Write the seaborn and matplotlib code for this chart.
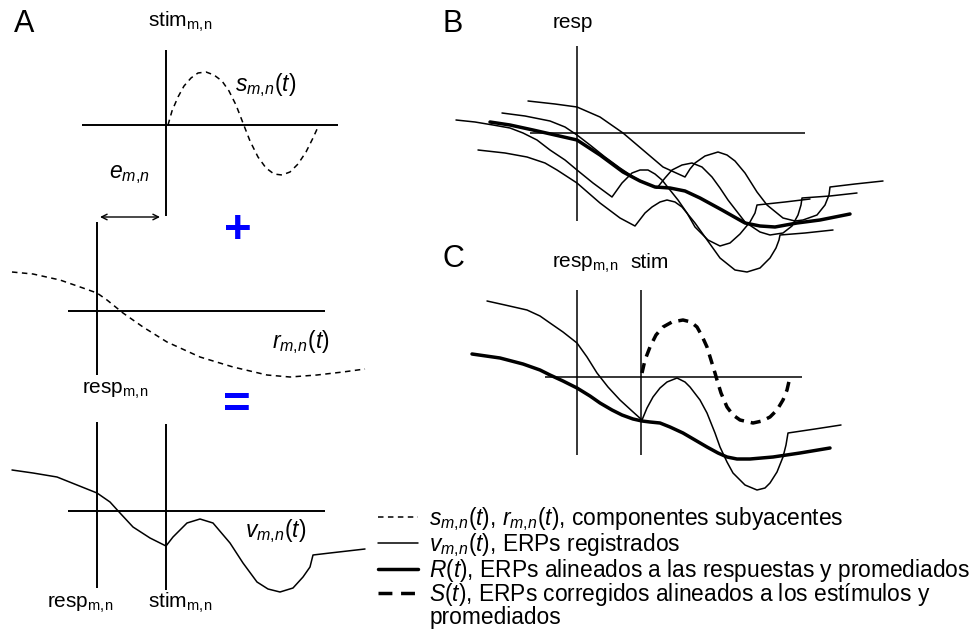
import matplotlib
matplotlib.use("Agg")
import matplotlib.pyplot as plt
import seaborn as sns
from matplotlib.lines import Line2D

# ---------------- data (time / amplitude, relative to each panel's axis cross) -------------
e_mn = 69  # latency between response and stimulus (panel A)

# Panel A, top: stimulus component s(t)
s_t = [2, 6, 12, 18, 25, 32, 40, 48, 56, 63, 70, 77, 84, 92, 100, 108, 116, 124, 132, 140, 147, 152]
s_a = [0, 14, 28, 39, 47, 52, 53, 50, 44, 34, 20, 2, -16, -32, -43, -49, -50, -47, -39, -27, -13, -2]

# Panel A, middle: response component r(t)
r_t = [-85, -64, -37, -14, 0, 10, 26, 46, 70, 103, 136, 170, 193, 220, 246, 268]
r_a = [39, 37, 31, 23, 18, 11, -2, -16, -31, -46, -56, -64, -66, -64, -61, -58]

# Panel A, bottom: recorded ERP v(t)
v_t = [-85, -64, -40, -20, 0, 13, 23, 36, 53, 69, 76, 90, 103, 116, 133, 146, 160, 171, 183, 196,
       206, 213, 216, 233, 268]
v_a = [41, 38, 34, 26, 18, 9, -2, -16, -27, -35, -26, -12, -8, -12, -32, -52, -71, -78, -81, -77,
       -66, -56, -44, -42, -38]

# Panel B: four single trials aligned to response, and their average R(t)
b1_t = [-49, -22, 0, 23, 46, 66, 86, 108, 113, 118, 128, 141, 150, 158, 168, 180, 190, 206, 218,
        226, 240, 248, 252, 253, 278, 306]
b1_a = [32, 29, 26, 16, 0, -17, -34, -44, -36, -30, -23, -19, -22, -28, -40, -59, -72, -85, -88,
        -87, -82, -72, -62, -54, -51, -48]
b2_t = [-75, -52, -27, -12, 0, 13, 28, 43, 58, 70, 80, 88, 95, 105, 115, 125, 135, 143, 151, 168,
        183, 193, 206, 215, 221, 224, 225, 253, 280]
b2_a = [20, 17, 12, 6, -2, -12, -24, -35, -45, -51, -55, -45, -37, -32, -30, -34, -44, -55, -67,
        -89, -99, -102, -100, -93, -82, -72, -65, -63, -60]
b3_t = [-121, -102, -84, -67, -54, -40, -27, -12, 0, 16, 35, 45, 55, 63, 71, 78, 85, 93, 101, 110,
        118, 131, 143, 153, 163, 173, 178, 180, 208, 233]
b3_a = [13, 11, 8, 5, 0, -7, -17, -27, -37, -50, -64, -50, -40, -37, -37, -41, -47, -57, -67, -80,
        -94, -107, -113, -110, -101, -89, -80, -72, -69, -66]
b4_t = [-99, -72, -50, -32, -20, 0, 23, 43, 58, 68, 75, 83, 90, 98, 105, 118, 128, 143, 158, 170,
        183, 193, 199, 202, 203, 228, 256]
b4_a = [-17, -20, -24, -30, -37, -50, -70, -85, -93, -80, -74, -69, -67, -69, -74, -90, -104,
        -125, -137, -139, -135, -125, -115, -107, -102, -100, -97]
bR_t = [-87, -67, -44, -22, 0, 23, 46, 63, 78, 93, 108, 123, 145, 168, 183, 198, 220, 243, 273]
bR_a = [11, 8, 3, -2, -7, -22, -39, -48, -54, -55, -58, -65, -77, -90, -93, -94, -90, -87, -81]

# Panel C: one trial, average R(t) and corrected stimulus-locked S(t)
stim_C = 64
cv_t = [-90, -72, -50, -37, -27, -14, 0, 10, 20, 31, 43, 55, 65, 70, 76, 83, 90, 100, 108, 113,
        123, 130, 138, 143, 150, 156, 168, 180, 188, 193, 200, 206, 209, 211, 238, 264]
cv_a = [76, 72, 67, 61, 54, 45, 34, 20, 4, -10, -23, -34, -43, -31, -20, -11, -5, -1, -5, -10,
        -23, -36, -56, -70, -85, -96, -108, -113, -111, -106, -95, -80, -68, -56, -52, -48]
cR_t = [-105, -77, -54, -37, -27, -14, 0, 13, 23, 35, 45, 56, 65, 73, 83, 93, 106, 118, 130, 141,
        150, 160, 173, 196, 223, 253]
cR_a = [23, 19, 13, 7, 2, -4, -11, -19, -26, -33, -38, -42, -44, -45, -46, -50, -56, -63, -70,
        -76, -80, -82, -82, -80, -76, -71]
cS_t = [65, 68, 73, 79, 86, 95, 106, 114, 120, 125, 130, 134, 138, 140, 144, 150, 156, 163, 176,
        185, 193, 200, 206, 210, 213]
cS_a = [4, 17, 30, 42, 50, 55, 57, 55, 50, 41, 30, 17, 4, -3, -16, -30, -38, -43, -46, -44, -40,
        -33, -23, -13, 0]

legend_labels = [
    r"$\mathit{s_{m,\!n}(t)}$, $\mathit{r_{m,\!n}(t)}$, componentes subyacentes",
    r"$\mathit{v_{m,\!n}(t)}$, ERPs registrados",
    r"$\mathit{R(t)}$, ERPs alineados a las respuestas y promediados",
    r"$\mathit{S(t)}$, ERPs corregidos alineados a los estímulos y",
    "promediados",
]

# ---------------- style ----------------
sns.set_theme(style="white")
plt.rcParams["font.family"] = ["Liberation Sans", "DejaVu Sans"]
plt.rcParams["text.color"] = "black"
plt.rcParams["mathtext.fontset"] = "custom"
plt.rcParams["mathtext.rm"] = "Liberation Sans"
plt.rcParams["mathtext.it"] = "Liberation Sans:italic"
plt.rcParams["mathtext.bf"] = "Liberation Sans:bold"

W, H = 979, 639
fig = plt.figure(figsize=(W / 100, H / 100), dpi=100)
fig.patch.set_facecolor("white")

AX_LW = 1.4
THIN = 1.1
THICK = 2.5
DASH_THIN = (0, (3.6, 2.9))
DASH_THICK = (0, (2.9, 2.0))


def panel_axes(ox, oy):
    ax = fig.add_axes([0, 0, 1, 1])
    ax.patch.set_alpha(0)
    return ax, (ox, oy)


def finish(ax, origin):
    ox, oy = origin
    ax.set_xlim(-ox, W - ox)
    ax.set_ylim(oy - H, oy)
    ax.axis("off")


def curve(ax, t, a, lw, ls="-"):
    sns.lineplot(x=t, y=a, ax=ax, sort=False, estimator=None, color="black",
                 linewidth=lw, linestyle=ls)


def ftxt(x, y, s, size, **kw):
    fig.text(x / W, 1 - y / H, s, fontsize=size, va="baseline", ha="left", color="black", **kw)


# ---- Panel A top ----
axA1, oA1 = panel_axes(166, 125)
axA1.hlines(0, -84, 172, color="black", lw=AX_LW)
axA1.vlines(0, -91, 75, color="black", lw=AX_LW)
curve(axA1, s_t, s_a, THIN, DASH_THIN)
axA1.annotate("", xy=(-6, -92), xytext=(-e_mn + 3, -92),
              arrowprops=dict(arrowstyle="<->", lw=1.0, color="black",
                              mutation_scale=10, shrinkA=0, shrinkB=0))
finish(axA1, oA1)

# ---- Panel A middle ----
axA2, oA2 = panel_axes(166 - e_mn, 311)
axA2.hlines(0, -29, 228, color="black", lw=AX_LW)
axA2.vlines(0, -64, 89, color="black", lw=AX_LW)
curve(axA2, r_t, r_a, THIN, DASH_THIN)
finish(axA2, oA2)

# ---- Panel A bottom ----
axA3, oA3 = panel_axes(166 - e_mn, 511)
axA3.hlines(0, -29, 228, color="black", lw=AX_LW)
axA3.vlines(0, -77, 89, color="black", lw=AX_LW)
axA3.vlines(e_mn, -79, 87, color="black", lw=AX_LW)
curve(axA3, v_t, v_a, THIN)
finish(axA3, oA3)

# ---- Panel B ----
axB, oB = panel_axes(577, 133)
axB.hlines(0, -47, 228, color="black", lw=THIN)
axB.vlines(0, -88, 87, color="black", lw=THIN)
for tt, aa in [(b1_t, b1_a), (b2_t, b2_a), (b3_t, b3_a), (b4_t, b4_a)]:
    curve(axB, tt, aa, THIN)
curve(axB, bR_t, bR_a, THICK)
finish(axB, oB)

# ---- Panel C ----
axC, oC = panel_axes(577, 377)
axC.hlines(0, -32, 225, color="black", lw=THIN)
axC.vlines(0, -78, 87, color="black", lw=THIN)
axC.vlines(stim_C, -78, 87, color="black", lw=THIN)
curve(axC, cv_t, cv_a, THIN)
curve(axC, cR_t, cR_a, THICK)
curve(axC, cS_t, cS_a, THICK, DASH_THICK)
finish(axC, oC)

# ---- legend ----
handles = [
    Line2D([], [], color="black", lw=THIN, linestyle=(0, (3.6, 2.9))),
    Line2D([], [], color="black", lw=THIN),
    Line2D([], [], color="black", lw=THICK),
    Line2D([], [], color="black", lw=THICK, linestyle=(0, (4.0, 2.5))),
    Line2D([], [], color="none", lw=0),
]
leg = axC.legend(handles, legend_labels, loc="upper left",
                 bbox_to_anchor=(378 / W, 1 - 505 / H), bbox_transform=fig.transFigure,
                 frameon=False, fontsize=16.4, handlelength=1.75, handletextpad=0.5,
                 labelspacing=-0.09, borderpad=0, borderaxespad=0)
for txt in leg.get_texts():
    txt.set_color("black")

# ---- texts ----
LBL = 15
ITL = 16.5
ftxt(14, 32, "A", 22)
ftxt(443, 32, "B", 22)
ftxt(443, 267, "C", 22)

ftxt(148, 27, r"stim$_\mathrm{m,\!n}$", LBL)
ftxt(235, 91, r"$\mathit{s_{m,\!n}(t)}$", ITL)
ftxt(109, 178, r"$\mathit{e_{m,\!n}}$", ITL)
ftxt(272, 348, r"$\mathit{r_{m,\!n}(t)}$", ITL)
ftxt(82, 394, r"resp$_\mathrm{m,\!n}$", LBL)
ftxt(245, 537, r"$\mathit{v_{m,\!n}(t)}$", ITL)
ftxt(47, 608, r"resp$_\mathrm{m,\!n}$", LBL)
ftxt(148, 608, r"stim$_\mathrm{m,\!n}$", LBL)
ftxt(553, 28, "resp", LBL)
ftxt(552, 268, r"resp$_\mathrm{m,\!n}$", LBL)
ftxt(630, 268, "stim", LBL)

fig.text(238 / W, 1 - 231 / H, "+", fontsize=34, fontweight="bold", color="#0000ff",
         ha="center", va="center")
fig.text(237 / W, 1 - 406 / H, "=", fontsize=34, fontweight="bold", color="#0000ff",
         ha="center", va="center")

fig.savefig("out.png", dpi=100, facecolor="white")
